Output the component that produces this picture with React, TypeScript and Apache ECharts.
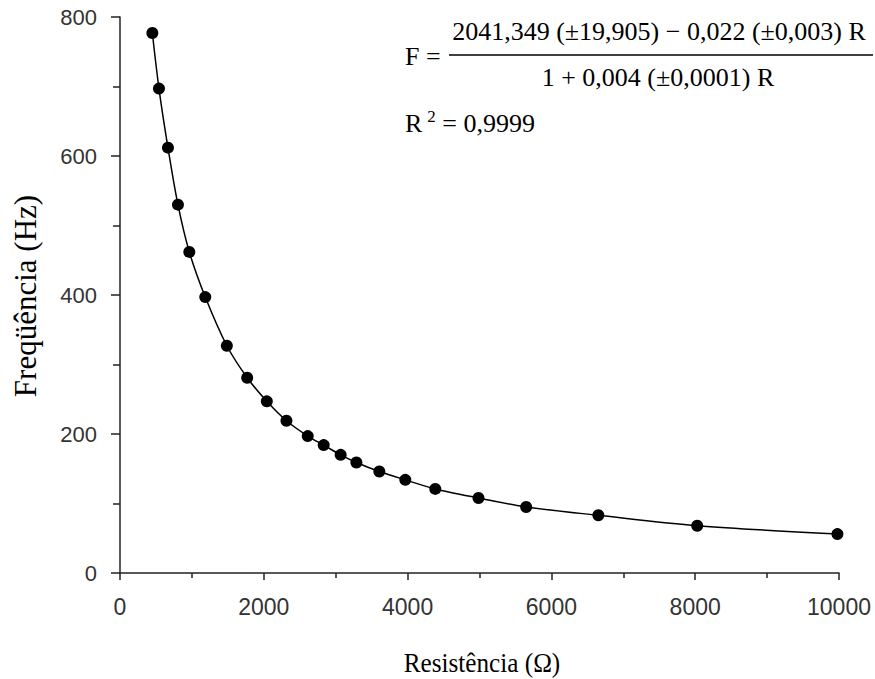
import React, { useEffect, useRef } from "react";
import * as echarts from "echarts";

const resistance = [450, 542, 667, 806, 964, 1186, 1486, 1769, 2042, 2315, 2611, 2833, 3069, 3288, 3607, 3968, 4385, 4986, 5649, 6653, 8028, 9978];
const frequency = [777, 697, 612, 530, 462, 397, 327, 281, 247, 219, 197, 184, 170, 159, 146, 134, 121, 108, 95, 83, 68, 56];

const xTitle = "Resistência (Ω)";
const yTitle = "Freqüência (Hz)";
const numerator = "2041,349 (±19,905) − 0,022 (±0,003) R";
const denominator = "1 + 0,004 (±0,0001) R";
const r2Label = "0,9999";

export default function App() {
  const ref = useRef<HTMLDivElement>(null);
  useEffect(() => {
    if (!ref.current) return;
    const chart = echarts.init(ref.current, null, { renderer: "svg" });
    const pts = resistance.map((r, i) => [r, frequency[i]]);
    const serif = "'Liberation Serif', 'Times New Roman', serif";
    const sans = "'Liberation Sans', Arial, sans-serif";
    chart.setOption({
      animation: false,
      backgroundColor: "#ffffff",
      grid: { left: 120, right: 36, top: 17, bottom: 106 },
      xAxis: {
        type: "value",
        min: 0,
        max: 10000,
        interval: 2000,
        axisLine: { lineStyle: { color: "#222", width: 1.5 } },
        axisTick: { show: true, inside: false, length: 7, lineStyle: { color: "#222", width: 1.5 } },
        minorTick: { show: true, splitNumber: 2, length: 5, lineStyle: { color: "#222", width: 1.5 } },
        axisLabel: {
          fontFamily: sans,
          fontSize: 23,
          color: "#333",
          margin: 22,
          formatter: (v: number) => String(v),
        },
        splitLine: { show: false },
      },
      yAxis: {
        type: "value",
        min: 0,
        max: 800,
        interval: 200,
        axisLine: { show: true, lineStyle: { color: "#222", width: 1.5 } },
        axisTick: { show: true, inside: false, length: 9, lineStyle: { color: "#222", width: 1.5 } },
        minorTick: { show: true, splitNumber: 2, length: 7, lineStyle: { color: "#222", width: 1.5 } },
        axisLabel: { fontFamily: sans, fontSize: 22, color: "#333", margin: 23 },
        splitLine: { show: false },
      },
      graphic: [
        {
          type: "text",
          x: 482,
          y: 663,
          scaleX: 0.9,
          style: {
            text: xTitle,
            font: "28px " + serif,
            fill: "#000",
            textAlign: "center",
            textVerticalAlign: "middle",
          },
        },
        {
          type: "text",
          x: 25,
          y: 296,
          rotation: Math.PI / 2,
          style: {
            text: yTitle,
            font: "31px " + serif,
            fill: "#000",
            textAlign: "center",
            textVerticalAlign: "middle",
          },
        },
        {
          type: "text",
          x: 405,
          y: 56,
          style: { text: "F =", font: "26px " + serif, fill: "#000", textVerticalAlign: "middle" },
        },
        {
          type: "text",
          x: 659,
          y: 31,
          style: {
            text: numerator,
            font: "26px " + serif,
            fill: "#000",
            textAlign: "center",
            textVerticalAlign: "middle",
          },
        },
        {
          type: "line",
          shape: { x1: 449, y1: 55, x2: 873, y2: 55 },
          style: { stroke: "#000", lineWidth: 1.5 },
        },
        {
          type: "text",
          x: 658,
          y: 77,
          style: {
            text: denominator,
            font: "26px " + serif,
            fill: "#000",
            textAlign: "center",
            textVerticalAlign: "middle",
          },
        },
        {
          type: "text",
          x: 405,
          y: 122,
          style: {
            text: "{a|R}{s|2}{a| = " + r2Label + "}",
            textVerticalAlign: "middle",
            rich: {
              a: { font: "26px " + serif, fill: "#000", verticalAlign: "bottom" },
              s: { font: "17px " + serif, fill: "#000", verticalAlign: "top", padding: [0, 0, 12, 5] },
            },
          },
        },
      ],
      series: [
        {
          type: "line",
          data: pts,
          smooth: 0.3,
          symbol: "circle",
          symbolSize: 12,
          itemStyle: { color: "#000" },
          lineStyle: { color: "#000", width: 1.5 },
        },
      ],
    });
    return () => chart.dispose();
  }, []);
  return <div ref={ref} style={{ position: "fixed", left: 0, top: 0, width: 875, height: 679 }} />;
}
